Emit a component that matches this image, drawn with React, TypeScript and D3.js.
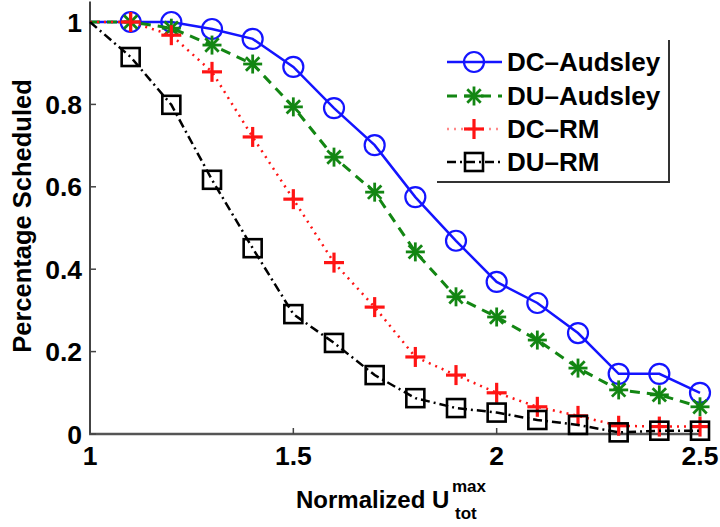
import { useEffect, useRef } from 'react';
import * as d3 from 'd3';

// utilisation points (x axis)
const xValues = [1.0, 1.1, 1.2, 1.3, 1.4, 1.5, 1.6, 1.7, 1.8, 1.9, 2.0, 2.1, 2.2, 2.3, 2.4, 2.5];

// fraction of task sets scheduled
const dcAudsley = [1, 1, 1, 0.983, 0.959, 0.891, 0.791, 0.701, 0.575, 0.469, 0.369, 0.318, 0.245, 0.146, 0.146, 0.1];
const duAudsley = [1, 1, 0.985, 0.944, 0.898, 0.794, 0.672, 0.587, 0.442, 0.333, 0.284, 0.228, 0.16, 0.107, 0.095, 0.066];
const dcRM = [1, 1, 0.968, 0.879, 0.721, 0.57, 0.416, 0.308, 0.187, 0.143, 0.1, 0.066, 0.044, 0.02, 0.018, 0.018];
const duRM = [1, 0.915, 0.799, 0.617, 0.451, 0.291, 0.221, 0.143, 0.087, 0.063, 0.052, 0.034, 0.022, 0.004, 0.008, 0.008];

const seriesNames = ['DC\u2013Audsley', 'DU\u2013Audsley', 'DC\u2013RM', 'DU\u2013RM'];
const xTicks = [1, 1.5, 2, 2.5];
const yTicks = [0, 0.2, 0.4, 0.6, 0.8, 1];

const FONT = '"Liberation Sans", Arial, sans-serif';

const styles = [
	{ color: '#1414ff', dash: null, width: 2.5, marker: 'circle' },
	{ color: '#138613', dash: '10,7', width: 3, marker: 'star' },
	{ color: '#ff1414', dash: '2,5', width: 2.5, marker: 'plus' },
	{ color: '#000000', dash: '9,4,2,4', width: 2.5, marker: 'square' },
];

const drawMarker = (g, type, cx, cy, color) => {
	if (type === 'circle') {
		g.append('circle')
			.attr('cx', cx)
			.attr('cy', cy)
			.attr('r', 10)
			.attr('fill', 'none')
			.attr('stroke', color)
			.attr('stroke-width', 2.2);
	} else if (type === 'square') {
		g.append('rect')
			.attr('x', cx - 9)
			.attr('y', cy - 9)
			.attr('width', 18)
			.attr('height', 18)
			.attr('fill', 'none')
			.attr('stroke', color)
			.attr('stroke-width', 2.6);
	} else {
		const angles = type === 'plus' ? [0, 90] : [0, 45, 90, 135];
		const len = type === 'plus' ? 10 : 9.5;
		angles.forEach((a) => {
			const r = (a * Math.PI) / 180;
			g.append('line')
				.attr('x1', cx - len * Math.cos(r))
				.attr('y1', cy - len * Math.sin(r))
				.attr('x2', cx + len * Math.cos(r))
				.attr('y2', cy + len * Math.sin(r))
				.attr('stroke', color)
				.attr('stroke-width', type === 'plus' ? 3.2 : 2.8);
		});
	}
};

const App = () => {
	const ref = useRef(null);

	useEffect(() => {
		const svg = d3.select(ref.current);
		svg.selectAll('*').remove();

		const x = d3.scaleLinear().domain([1, 2.5]).range([90, 700]);
		const y = d3.scaleLinear().domain([0, 1.05]).range([434, 1.4]);

		const series = [dcAudsley, duAudsley, dcRM, duRM];

		// axes (left and bottom only, ticks pointing inward)
		const axisColor = '#444';
		svg.append('line')
			.attr('x1', x(1)).attr('x2', x(1))
			.attr('y1', y(1.05)).attr('y2', y(0))
			.attr('stroke', axisColor).attr('stroke-width', 2);
		svg.append('line')
			.attr('x1', x(1) - 1).attr('x2', x(2.5))
			.attr('y1', y(0)).attr('y2', y(0))
			.attr('stroke', '#555').attr('stroke-width', 2.5);

		yTicks.forEach((t) => {
			svg.append('line')
				.attr('x1', x(1)).attr('x2', x(1) + 6)
				.attr('y1', y(t)).attr('y2', y(t))
				.attr('stroke', axisColor).attr('stroke-width', 1.5);
			svg.append('text')
				.attr('x', 82)
				.attr('y', y(t))
				.attr('dy', '0.36em')
				.attr('text-anchor', 'end')
				.attr('font-family', FONT)
				.attr('font-weight', 'bold')
				.attr('font-size', 26.5)
				.text(d3.format('~g')(t));
		});

		xTicks.forEach((t) => {
			svg.append('line')
				.attr('x1', x(t)).attr('x2', x(t))
				.attr('y1', y(0)).attr('y2', y(0) - 6)
				.attr('stroke', axisColor).attr('stroke-width', 1.5);
			svg.append('text')
				.attr('x', x(t))
				.attr('y', 465)
				.attr('text-anchor', 'middle')
				.attr('font-family', FONT)
				.attr('font-weight', 'bold')
				.attr('font-size', 26.5)
				.text(d3.format('~g')(t));
		});

		// axis labels
		svg.append('text')
			.attr('transform', 'translate(31, 216) rotate(-90)')
			.attr('text-anchor', 'middle')
			.attr('font-family', FONT)
			.attr('font-weight', 'bold')
			.attr('font-size', 25.5)
			.text('Percentage Scheduled');

		const xl = svg.append('text')
			.attr('x', 296)
			.attr('y', 508)
			.attr('font-family', FONT)
			.attr('font-weight', 'bold')
			.attr('font-size', 24);
		xl.append('tspan').text('Normalized U');
		xl.append('tspan').attr('x', 452).attr('y', 492).attr('font-size', 17).text('max');
		xl.append('tspan').attr('x', 455).attr('y', 519).attr('font-size', 17).text('tot');

		// lines + markers
		series.forEach((vals, si) => {
			const s = styles[si];
			const pts = xValues.map((xv, i) => [xv, vals[i]]);
			svg.append('path')
				.datum(pts)
				.attr('fill', 'none')
				.attr('stroke', s.color)
				.attr('stroke-width', s.width)
				.attr('stroke-dasharray', s.dash)
				.attr(
					'd',
					d3
						.line()
						.x((d) => x(d[0]))
						.y((d) => y(d[1]))
				);
			const g = svg.append('g');
			pts.slice(1).forEach((d) => drawMarker(g, s.marker, x(d[0]), y(d[1]), s.color));
		});

		// legend
		const lg = svg.append('g');
		lg.append('rect')
			.attr('x', 437).attr('y', 40)
			.attr('width', 232).attr('height', 142)
			.attr('fill', 'white');
		lg.append('path')
			.attr('d', 'M669,40 V182 H437')
			.attr('fill', 'none')
			.attr('stroke', '#333')
			.attr('stroke-width', 2);
		const rowY = [62, 96, 129, 162];
		seriesNames.forEach((name, i) => {
			const s = styles[i];
			lg.append('line')
				.attr('x1', 447).attr('x2', 502)
				.attr('y1', rowY[i]).attr('y2', rowY[i])
				.attr('stroke', s.color)
				.attr('stroke-width', s.width)
				.attr('stroke-opacity', i === 2 ? 0.5 : 1)
				.attr('stroke-dasharray', s.dash);
			drawMarker(lg, s.marker, 474, rowY[i], s.color);
			lg.append('text')
				.attr('x', 507)
				.attr('y', rowY[i])
				.attr('dy', '0.36em')
				.attr('font-family', FONT)
				.attr('font-weight', 'bold')
				.attr('font-size', 26)
				.text(name);
		});
	}, []);

	return (
		<svg
			ref={ref}
			width={720}
			height={527}
			style={{ position: 'absolute', left: 0, top: 0, background: 'white' }}
		/>
	);
};

export default App;
